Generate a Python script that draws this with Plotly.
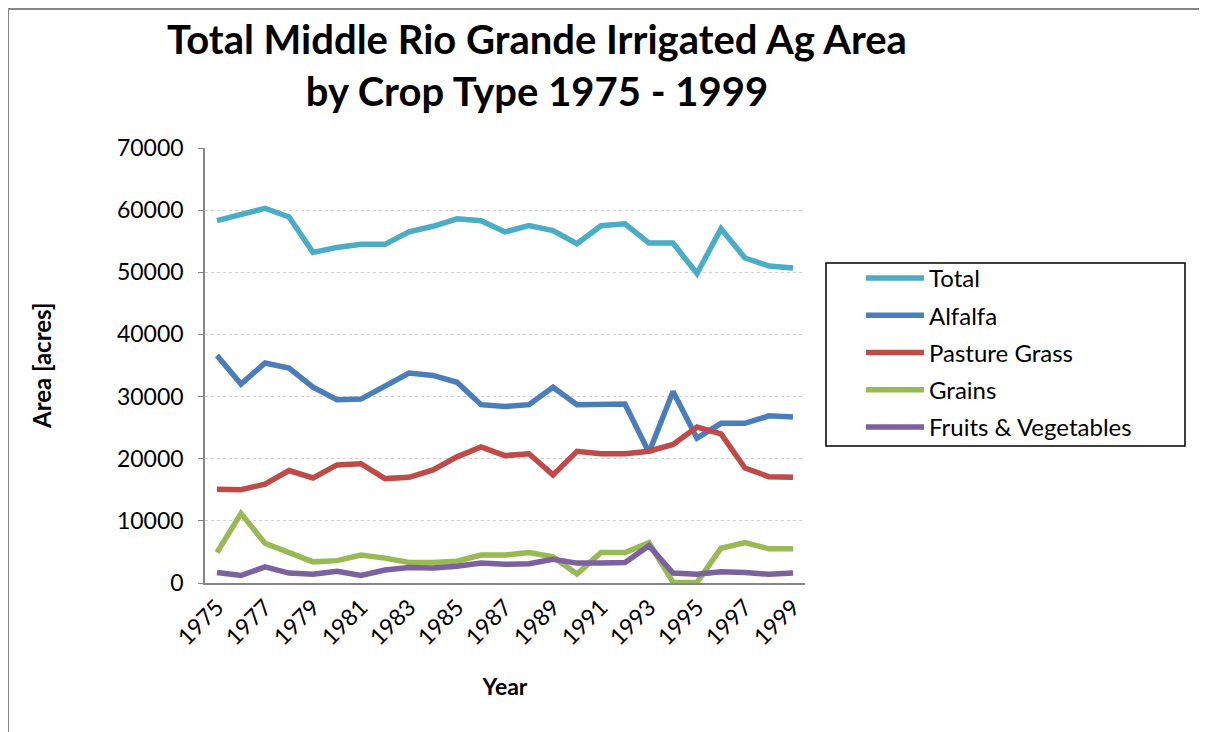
import plotly.graph_objects as go

years = list(range(1975, 2000))
total = [58300, 59400, 60300, 58900, 53200, 54000, 54500, 54500, 56500, 57400, 58600, 58300, 56500,
         57500, 56700, 54600, 57500, 57800, 54700, 54700, 49800, 57000, 52300, 51000, 50700]
alfalfa = [36600, 32000, 35400, 34600, 31500, 29500, 29600, 31800, 33800, 33400, 32300, 28700, 28400,
           28700, 31500, 28700, 28700, 28800, 21000, 30800, 23300, 25700, 25700, 26900, 26700]
pasture = [15100, 15000, 15900, 18100, 16900, 19000, 19200, 16800, 17000, 18200, 20300, 21900, 20500,
           20800, 17400, 21200, 20800, 20800, 21200, 22300, 25100, 24000, 18500, 17100, 17000]
grains = [4900, 11200, 6400, 4900, 3400, 3600, 4500, 4000, 3300, 3300, 3500, 4500, 4500,
          4900, 4200, 1450, 4900, 4900, 6500, 100, 100, 5600, 6500, 5500, 5500]
fruits = [1700, 1200, 2600, 1600, 1400, 1900, 1200, 2100, 2500, 2400, 2700, 3200, 3000,
          3100, 3800, 3200, 3200, 3300, 6000, 1600, 1400, 1800, 1700, 1400, 1600]

series_names = ["Total", "Alfalfa", "Pasture Grass", "Grains", "Fruits & Vegetables"]
series_values = [total, alfalfa, pasture, grains, fruits]
colors = ["#4BACC6", "#4A7EBB", "#BE4B48", "#98B954", "#7D60A0"]

FONT = "Lato"

# page body has an 8px offset; figure coords = window coords - 8
L, T, PW, PH = 197, 140, 600, 435
W, H = 1207, 732


def px(xw):
    return (xw - 8 - L) / PW


def py(yw):
    return (T + PH - (yw - 8)) / PH


fig = go.Figure()
for i, (name, vals, col) in enumerate(zip(series_names, series_values, colors)):
    fig.add_trace(go.Scatter(
        x=years, y=vals, name=name, mode="lines",
        line=dict(color=col, width=5.5),
        legendgroup=f"g{i}",
    ))

fig.update_layout(
    width=W, height=H,
    margin=dict(l=L, r=W - L - PW, t=T, b=H - T - PH, autoexpand=False),
    paper_bgcolor="white", plot_bgcolor="white",
    font=dict(family=FONT, size=23, color="black"),
    showlegend=True,
    legend=dict(
        x=px(861), y=py(256), xanchor="left", yanchor="top",
        borderwidth=0, bgcolor="rgba(0,0,0,0)",
        font=dict(family=FONT, size=24, color="black"),
        tracegroupgap=3, itemwidth=58,
    ),
    xaxis=dict(
        range=[1974.5, 1999.5], tickmode="linear", tick0=1975, dtick=2,
        tickangle=-45, showgrid=False, zeroline=False, automargin=False,
        showline=True, linecolor="#868686", linewidth=1.5,
        ticks="", tickfont=dict(family=FONT, size=23),
        title=dict(text="<b>Year</b>", font=dict(family=FONT, size=23), standoff=30),
    ),
    yaxis=dict(
        range=[0, 70000], tickmode="linear", tick0=0, dtick=10000,
        showgrid=True, gridcolor="#D0D0D0", griddash="dot", gridwidth=1,
        zeroline=False, showline=True, linecolor="#868686", linewidth=1.5,
        ticks="outside", ticklen=5, tickcolor="#868686", automargin=False,
        ticklabelstandoff=10,
        tickformat="d", tickfont=dict(family=FONT, size=23),
    ),
)

# y-axis title
fig.add_annotation(
    text="<b>Area [acres]</b>", textangle=-90,
    xref="paper", yref="paper", x=px(41), y=py(366),
    xanchor="center", yanchor="middle", showarrow=False,
    font=dict(family=FONT, size=24, color="black"),
)

fig.add_annotation(
    text="<b>Total Middle Rio Grande Irrigated Ag Area<br>by Crop Type 1975 - 1999</b>",
    xref="paper", yref="paper", x=px(537), y=py(65),
    xanchor="center", yanchor="middle", showarrow=False,
    font=dict(family=FONT, size=40, color="black"),
)

# legend frame
fig.add_shape(type="rect", xref="paper", yref="paper",
              x0=px(826), x1=px(1185), y0=py(263), y1=py(446),
              line=dict(color="black", width=1.5), layer="below")

# outer chart border (top and left edges visible)
fig.add_shape(type="line", xref="paper", yref="paper",
              x0=px(8), x1=px(1207), y0=py(9), y1=py(9),
              line=dict(color="#868686", width=2))
fig.add_shape(type="line", xref="paper", yref="paper",
              x0=px(8), x1=px(8), y0=py(9), y1=py(760),
              line=dict(color="#868686", width=2))

fig.write_html("out.html")
